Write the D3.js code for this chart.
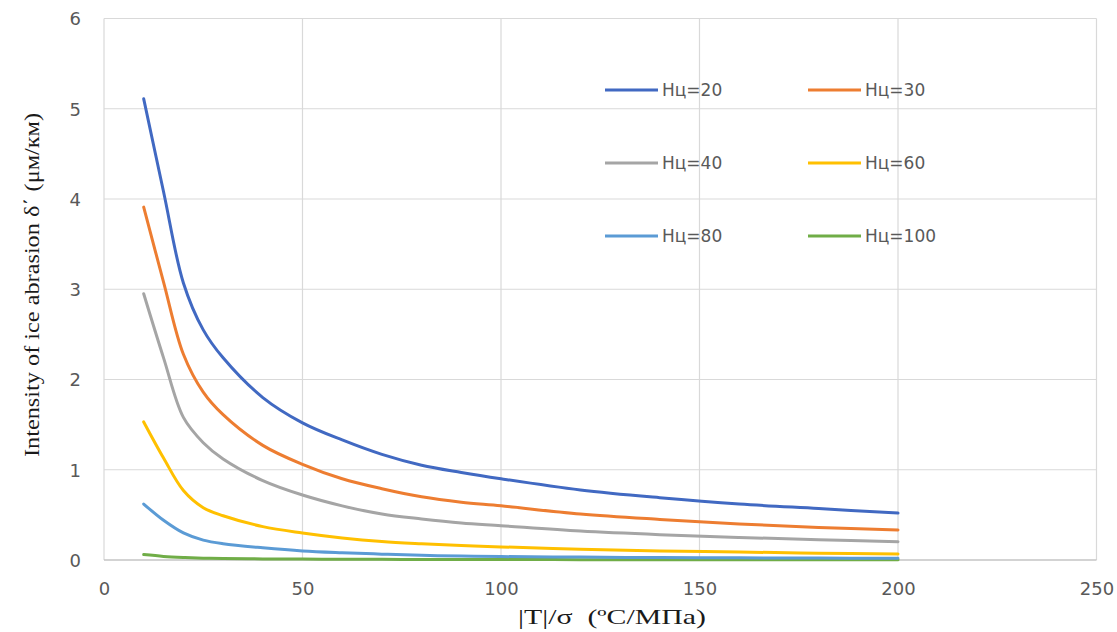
<!DOCTYPE html>
<html>
<head>
<meta charset="utf-8">
<script src="https://cdn.jsdelivr.net/npm/d3@7"></script>
<style>
  html, body { margin: 0; padding: 0; background: #ffffff; }
  svg { display: block; }
</style>
</head>
<body>
<svg id="chart" width="1117" height="632"></svg>
<script>
// Ratio |T|/σ (ºC/МПа) at which the abrasion intensity was evaluated
const ratio = [10, 15, 20, 25, 30, 40, 50, 60, 70, 80, 90, 100, 120, 140, 160, 180, 200];

// Intensity of ice abrasion δ΄ (μм/км) for each ice strength Нц
const h20  = [5.11, 4.08, 3.07, 2.55, 2.24, 1.80, 1.52, 1.33, 1.17, 1.05, 0.97, 0.90, 0.776, 0.69, 0.62, 0.57, 0.52];
const h30  = [3.91, 3.08, 2.28, 1.86, 1.61, 1.27, 1.06, 0.90, 0.79, 0.70, 0.64, 0.60, 0.51, 0.45, 0.40, 0.36, 0.332];
const h40  = [2.95, 2.24, 1.58, 1.30, 1.12, 0.88, 0.72, 0.60, 0.51, 0.455, 0.41, 0.38, 0.32, 0.28, 0.25, 0.225, 0.203];
const h60  = [1.53, 1.13, 0.77, 0.58, 0.49, 0.37, 0.30, 0.245, 0.205, 0.18, 0.16, 0.145, 0.12, 0.10, 0.088, 0.076, 0.066];
const h80  = [0.62, 0.44, 0.30, 0.22, 0.18, 0.135, 0.10, 0.08, 0.065, 0.052, 0.044, 0.038, 0.032, 0.027, 0.024, 0.021, 0.019];
const h100 = [0.06, 0.04, 0.028, 0.02, 0.016, 0.012, 0.01, 0.008, 0.007, 0.006, 0.005, 0.005, 0.004, 0.004, 0.003, 0.003, 0.003];

const seriesNames = ["Нц=20", "Нц=30", "Нц=40", "Нц=60", "Нц=80", "Нц=100"];
const seriesValues = [h20, h30, h40, h60, h80, h100];
const seriesColors = ["#4169C2", "#ED7D31", "#A5A5A5", "#FFC000", "#5B9BD5", "#70AD47"];

const xTicks = [0, 50, 100, 150, 200, 250];
const yTicks = [0, 1, 2, 3, 4, 5, 6];

const xTitle = "|T|/σ  (ºC/МПа)";
const yTitle = "Intensity of ice abrasion δ΄ (μм/км)";

const svg = d3.select("#chart");

const x = d3.scaleLinear().domain([0, 250]).range([104, 1096.5]);
const y = d3.scaleLinear().domain([0, 6]).range([560, 18.5]);

// Gridlines
const grid = svg.append("g");
grid.selectAll("line.h").data(yTicks.filter(d => d > 0)).join("line")
  .attr("x1", x(0)).attr("x2", x(250))
  .attr("y1", d => y(d)).attr("y2", d => y(d))
  .attr("stroke", "#d9d9d9").attr("stroke-width", 1.2);
grid.selectAll("line.v").data(xTicks).join("line")
  .attr("x1", d => x(d)).attr("x2", d => x(d))
  .attr("y1", y(0)).attr("y2", y(6))
  .attr("stroke", "#d9d9d9").attr("stroke-width", 1.2);

// Axes (labels only, the baseline drawn separately)
const xAxis = d3.axisBottom(x).tickValues(xTicks).tickSize(0).tickPadding(0).tickFormat(d3.format("d"));
const yAxis = d3.axisLeft(y).tickValues(yTicks).tickSize(0).tickPadding(0).tickFormat(d3.format("d"));

const gx = svg.append("g").attr("transform", `translate(0, ${y(0)})`).call(xAxis);
gx.select(".domain").remove();
gx.selectAll("text")
  .attr("dy", null).attr("y", 35)
  .attr("font-family", "DejaVu Sans").attr("font-size", 18).attr("fill", "#595959");

const gy = svg.append("g").attr("transform", "translate(81, 0)").call(yAxis);
gy.select(".domain").remove();
gy.selectAll("text")
  .attr("x", 0).attr("dy", "0.36em")
  .attr("font-family", "DejaVu Sans").attr("font-size", 18).attr("fill", "#595959");

svg.append("line")
  .attr("x1", x(0)).attr("x2", x(250)).attr("y1", y(0)).attr("y2", y(0))
  .attr("stroke", "#c4c4c4").attr("stroke-width", 1.3);

// Curves
const line = d3.line()
  .x(d => x(d[0]))
  .y(d => y(d[1]))
  .curve(d3.curveCatmullRom.alpha(0.5));

svg.append("g").selectAll("path")
  .data(seriesValues.map((vals, i) => ({ i, pts: ratio.map((r, k) => [r, vals[k]]) })).reverse())
  .join("path")
  .attr("d", d => line(d.pts))
  .attr("fill", "none")
  .attr("stroke", d => seriesColors[d.i])
  .attr("stroke-width", 3)
  .attr("stroke-linecap", "round");

// Legend: two columns, three rows
const legend = svg.append("g");
const legX = [605, 808];
const legY = [90, 163, 236];
seriesNames.forEach((name, i) => {
  const col = i % 2, row = Math.floor(i / 2);
  const g = legend.append("g").attr("transform", `translate(${legX[col]}, ${legY[row]})`);
  g.append("line").attr("x1", 0).attr("x2", 53).attr("y1", 0).attr("y2", 0)
    .attr("stroke", seriesColors[i]).attr("stroke-width", 3);
  g.append("text").attr("x", 57).attr("y", 0).attr("dy", "0.36em")
    .attr("font-family", "DejaVu Sans").attr("font-size", 17).attr("fill", "#595959")
    .text(name);
});

// Axis titles
svg.append("text")
  .attr("x", 518).attr("y", 624)
  .attr("font-family", "Liberation Serif").attr("font-size", 21).attr("fill", "#1a1a1a")
  .attr("textLength", 188).attr("lengthAdjust", "spacingAndGlyphs")
  .style("white-space", "pre")
  .text(xTitle);

svg.append("text")
  .attr("transform", "translate(39, 457) rotate(-90)")
  .attr("x", 0).attr("y", 0)
  .attr("font-family", "Liberation Serif").attr("font-size", 21).attr("fill", "#1a1a1a")
  .attr("textLength", 344).attr("lengthAdjust", "spacingAndGlyphs")
  .text(yTitle);
</script>
</body>
</html>
